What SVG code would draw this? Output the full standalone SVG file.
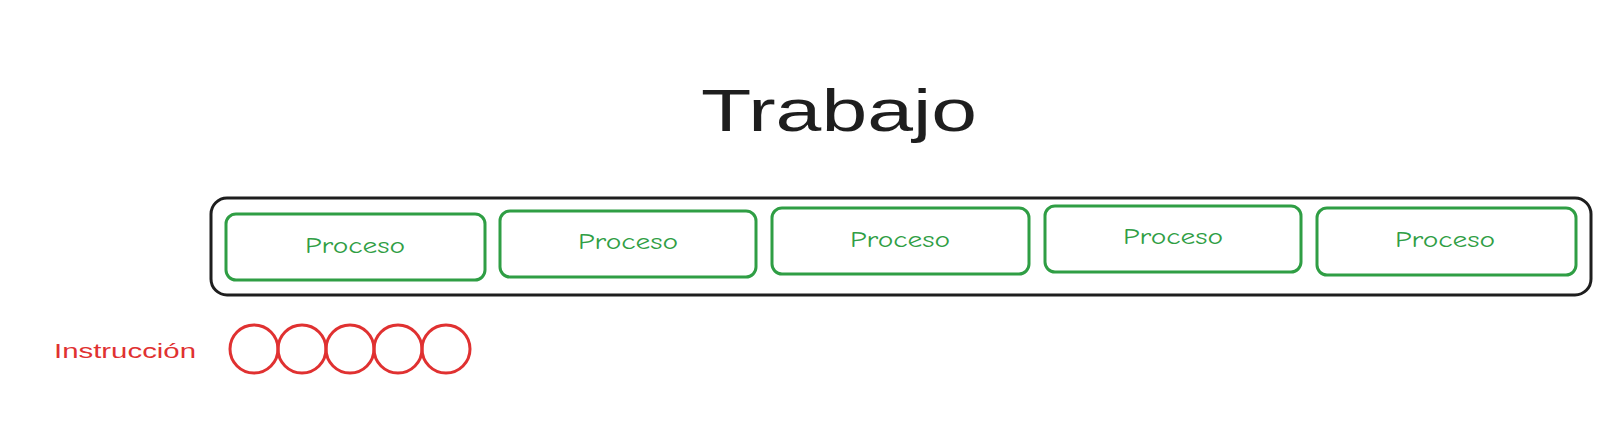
<svg xmlns="http://www.w3.org/2000/svg" width="1622" height="438" viewBox="0 0 1622 438">
<style>
.proc rect{fill:none;stroke:#2f9e44;stroke-width:3}
.proc text{fill:#2f9e44;font-family:"Comic Neue","Liberation Sans",sans-serif;font-size:22px;text-anchor:middle;dominant-baseline:central}
.ins circle{fill:none;stroke:#e03131;stroke-width:3}
</style>
<rect width="1622" height="438" fill="#ffffff"/>
<g id="title"><text x="839" y="131" font-family="Liberation Sans, sans-serif" font-size="60" fill="#1e1e1e" text-anchor="middle" textLength="276" lengthAdjust="spacingAndGlyphs">Trabajo</text></g>
<g id="trabajo"><rect x="211" y="198" width="1380" height="97" rx="16" fill="none" stroke="#1e1e1e" stroke-width="3"/></g>
<g id="proceso1" class="proc"><rect x="226" y="214" width="259" height="66" rx="10"/><text x="355" y="246" textLength="100" lengthAdjust="spacingAndGlyphs">Proceso</text></g>
<g id="proceso2" class="proc"><rect x="500" y="211" width="256" height="66" rx="10"/><text x="628" y="242" textLength="100" lengthAdjust="spacingAndGlyphs">Proceso</text></g>
<g id="proceso3" class="proc"><rect x="772" y="208" width="257" height="66" rx="10"/><text x="900" y="240" textLength="100" lengthAdjust="spacingAndGlyphs">Proceso</text></g>
<g id="proceso4" class="proc"><rect x="1045" y="206" width="256" height="66" rx="10"/><text x="1173" y="237" textLength="100" lengthAdjust="spacingAndGlyphs">Proceso</text></g>
<g id="proceso5" class="proc"><rect x="1317" y="208" width="259" height="67" rx="10"/><text x="1445" y="240" textLength="100" lengthAdjust="spacingAndGlyphs">Proceso</text></g>
<g id="instruccion-label"><text x="54" y="358" font-family="Liberation Sans, sans-serif" font-size="21" fill="#e03131" textLength="142" lengthAdjust="spacingAndGlyphs">Instrucción</text></g>
<g id="instrucciones" class="ins">
<circle cx="254" cy="349" r="24"/>
<circle cx="302" cy="349" r="24"/>
<circle cx="350" cy="349" r="24"/>
<circle cx="398" cy="349" r="24"/>
<circle cx="446" cy="349" r="24"/>
</g>
<g id="connectors"></g>
</svg>
